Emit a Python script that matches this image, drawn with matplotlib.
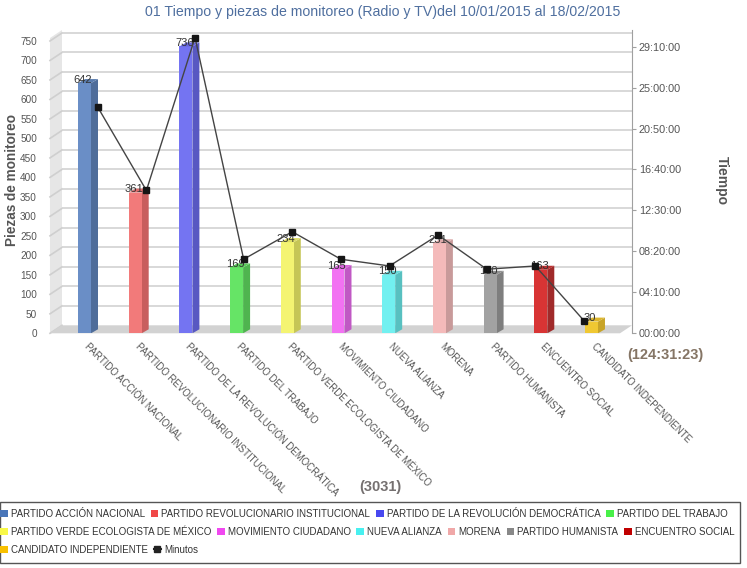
import matplotlib
matplotlib.use('Agg')
import matplotlib.pyplot as plt
from matplotlib.patches import Patch, Polygon, Rectangle
from matplotlib.lines import Line2D

plt.rcParams['font.family'] = ['Liberation Sans', 'DejaVu Sans']

categories = ["PARTIDO ACCIÓN NACIONAL", "PARTIDO REVOLUCIONARIO INSTITUCIONAL",
              "PARTIDO DE LA REVOLUCIÓN DEMOCRÁTICA", "PARTIDO DEL TRABAJO",
              "PARTIDO VERDE ECOLOGISTA DE MÉXICO", "MOVIMIENTO CIUDADANO",
              "NUEVA ALIANZA", "MORENA", "PARTIDO HUMANISTA", "ENCUENTRO SOCIAL",
              "CANDIDATO INDEPENDIENTE"]
piezas = [642, 361, 736, 169, 234, 165, 150, 231, 150, 163, 30]
minutos = [1380, 872, 1805, 452, 620, 452, 411, 600, 391, 411, 77]
front_colors = ['#6a8ec6', '#f27a7a', '#7474f2', '#66e466', '#f4f472', '#f272f2',
                '#72f0f0', '#f4baba', '#a2a2a2', '#d83434', '#f0c832']
side_colors = ['#4f6d9a', '#c85e5e', '#5858c2', '#4fb44f', '#c6c656', '#c058c4',
               '#58c0c0', '#c89a9a', '#7e7e7e', '#a02a2a', '#c8a428']
top_colors = ['#5a7cae', '#dc6c6c', '#6666da', '#5acc5a', '#dcdc64', '#da64dc',
              '#64d8d8', '#dcaaaa', '#909090', '#bc2f2f', '#dcb62d']
legend_colors = ['#4a76b8', '#f04848', '#4848f0', '#48f048', '#f8f848', '#f048f0',
                 '#48f0f0', '#f0a8a8', '#888888', '#c00000', '#f8c000']
left_ticks = list(range(0, 751, 50))
right_ticks_min = [0, 250, 500, 750, 1000, 1250, 1500, 1750]
title = "01 Tiempo y piezas de monitoreo (Radio y TV)del 10/01/2015 al 18/02/2015"
total_time = "(124:31:23)"

W, H = 747, 568
fig = plt.figure(figsize=(W / 100, H / 100), dpi=100)


def rect(x0, y0, x1, y1):
    return [x0 / W, 1 - y1 / H, (x1 - x0) / W, (y1 - y0) / H]


ax = fig.add_axes(rect(62, 30, 632, 333.3))
xmin, xmax = -0.506, 10.737
ytop = 778.2
ax.set_xlim(xmin, xmax)
ax.set_ylim(0, ytop)
for s in ax.spines.values():
    s.set_visible(False)

dxf, dyf = 0.237, 20.5   # floor/wall depth
dxb, dyb = 0.138, 10.3   # bar depth

wall = Polygon([(xmin - dxf, 0), (xmin, dyf), (xmin, ytop), (xmin - dxf, ytop - dyf)],
               closed=True, facecolor='#e6e6e6', edgecolor='none', clip_on=False, zorder=0)
ax.add_patch(wall)
floor = Polygon([(xmin - dxf, 0), (xmin, dyf), (xmax, dyf), (xmax - dxf, 0)],
                closed=True, facecolor='#d2d2d2', edgecolor='none', clip_on=False, zorder=1)
ax.add_patch(floor)
for t in left_ticks:
    ax.plot([xmin - dxf, xmin], [t, t + dyf], color='#cfcfcf', lw=1.2, clip_on=False, zorder=0.5)
    if t > 0:
        ax.plot([xmin, xmax], [t + dyf, t + dyf], color='#d6d6d6', lw=1.3, zorder=0.5)

xs = list(range(len(categories)))
fl = [x - 0.19 for x in xs]
ax.bar([f + 0.128 for f in fl], piezas, width=0.256, color=front_colors, zorder=3)
for f, v, sc, tc in zip(fl, piezas, side_colors, top_colors):
    r = f + 0.256
    ax.fill([r, r + dxb, r + dxb, r], [0, dyb, v + dyb, v], color=sc, lw=0, zorder=2.9)
    ax.fill([f, f + dxb, r + dxb, r], [v, v + dyb, v + dyb, v], color=tc, lw=0, zorder=3)
    ax.text(f + 0.1, v - 4, str(v), ha='center', va='bottom', fontsize=8,
            color='#333333', zorder=5)

ax.set_yticks(left_ticks)
ax.tick_params(axis='y', length=0, pad=18, labelsize=7.2, labelcolor='#555555')
ax.set_xticks([x + 0.04 for x in xs])
ax.set_xticklabels(categories, rotation=-45, ha='left', va='top', rotation_mode='anchor',
                   fontsize=6.9, color='#555555')
ax.tick_params(axis='x', length=0, pad=6)

ax2 = ax.twinx()
ax2.set_ylim(0, 1851.3)
for k, s in ax2.spines.items():
    s.set_visible(k == 'right')
ax2.spines['right'].set_color('#a0a0a0')
ax2.set_yticks(right_ticks_min)
ax2.set_yticklabels(['%02d:%02d:00' % (m // 60, m % 60) for m in right_ticks_min])
ax2.tick_params(axis='y', length=3, color='#a0a0a0', pad=2, labelsize=7.8,
                labelcolor='#555555')
line_x = [0.2 + 0.959 * i for i in xs]
ax2.plot(line_x, minutos, color='#444444', lw=1, marker='s', ms=5,
         mfc='#151515', mec='#151515', zorder=6)

fig.text(383 / W, 1 - 12 / H, title, ha='center', va='center', fontsize=10.2,
         color='#4f6f9f')
fig.text(12 / W, 1 - 180 / H, "Piezas de monitoreo", rotation=90, ha='center',
         va='center', fontsize=9.8, fontweight='bold', color='#555555')
fig.text(722 / W, 1 - 180 / H, "Tiempo", rotation=270, ha='center', va='center',
         fontsize=10, fontweight='bold', color='#555555')
fig.text(665 / W, 1 - 355 / H, total_time, ha='center', va='center', fontsize=10.5,
         fontweight='bold', color='#857565')
fig.text(380 / W, 1 - 487 / H, "(%d)" % sum(piezas), ha='center', va='center',
         fontsize=10.5, fontweight='bold', color='#757070')

handles = [Patch(facecolor=c, edgecolor='none') for c in legend_colors]
handles.append(Line2D([], [], color='#222222', marker='s', ms=4, lw=1.5))
labels = categories + ["Minutos"]
rows = [(0, 4, 509), (4, 10, 527), (10, 12, 545)]
for a, b, ytopr in rows:
    fig.legend(handles[a:b], labels[a:b], ncol=b - a, loc='upper left',
               bbox_to_anchor=(0 / W, 1 - ytopr / H), frameon=False,
               prop={'size': 7},
               handlelength=0.8, handleheight=0.8, handletextpad=0.3,
               columnspacing=0.6, borderaxespad=0, borderpad=0, labelcolor='#333333')
fig.patches.append(Rectangle((0, 1 - 563 / H), 740 / W, 61 / H, transform=fig.transFigure,
                             fill=False, edgecolor='#555555', lw=1))

fig.savefig('out.png', dpi=100)
